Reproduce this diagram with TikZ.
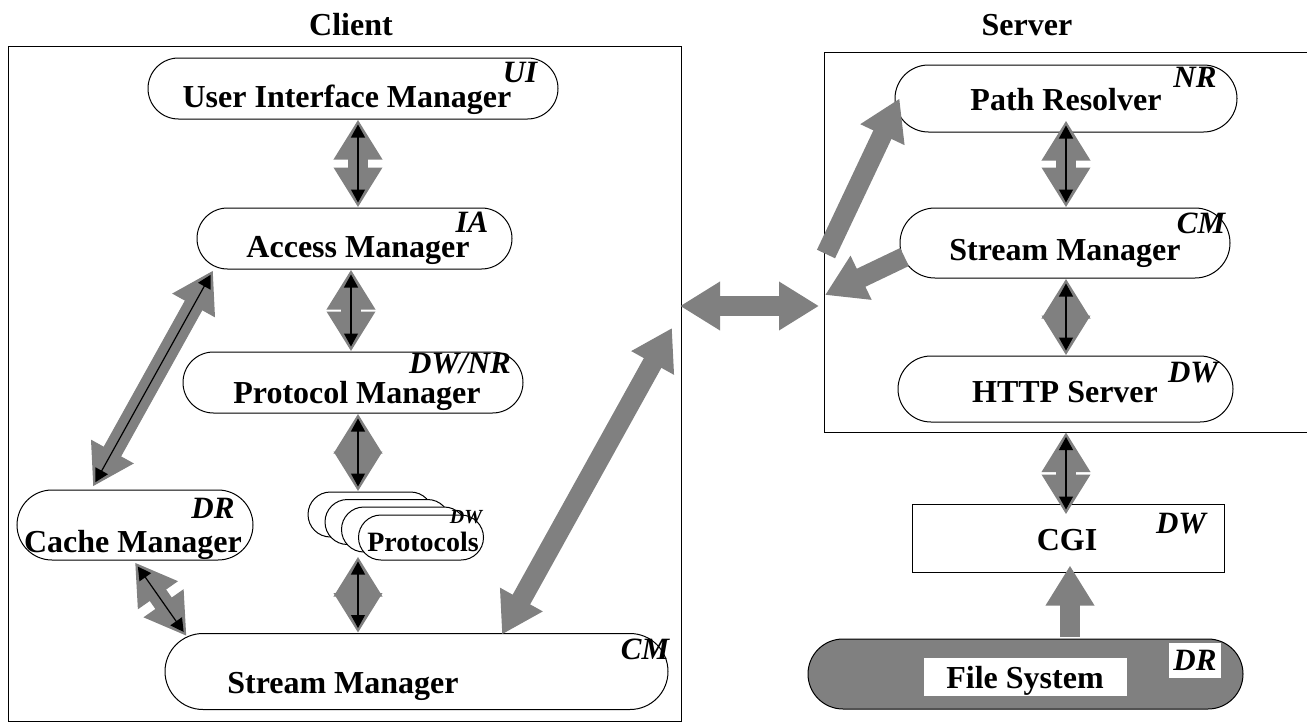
\documentclass[tikz,border=0pt]{standalone}
\usepackage{fontspec}
\setmainfont{Liberation Serif}
\usetikzlibrary{arrows.meta,calc}
\definecolor{ag}{RGB}{128,128,128}
\tikzset{
  frame/.style={draw, line width=1pt, inner sep=0pt},
  box/.style={draw, line width=1pt, fill=white, inner sep=0pt},
  nm/.style={font=\fontsize{32}{32}\selectfont\bfseries, anchor=base, inner sep=0pt},
  tag/.style={font=\fontsize{31}{31}\selectfont\bfseries\itshape, anchor=base, inner sep=0pt},
  fat/.style={draw=ag, line width=20pt, {Triangle[width=46pt,length=40pt]}-{Triangle[width=46pt,length=40pt]}},
  fatone/.style={draw=ag, line width=20pt, -{Triangle[width=46pt,length=40pt]}},
  thinarr/.style={draw=black, line width=1.2pt, {Triangle[width=14pt,length=13pt]}-{Triangle[width=14pt,length=13pt]}, shorten >=5pt, shorten <=5pt},
}
\newcommand{\dblarrow}[2]{\draw[fat] #1 -- #2; \draw[thinarr] #1 -- #2;}
\begin{document}
\begin{tikzpicture}[x=1pt,y=-1pt]
\useasboundingbox (0,0) rectangle (1307,728);
% containers
\node[frame, anchor=north west, minimum width=673pt, minimum height=675pt] (client) at (8,46) {};
\coordinate (srvTL) at (824,52);
\coordinate (srvBL) at (824,432);
\draw[line width=1pt] (1312,52) -- (srvTL) -- (srvBL) -- (1312,432);
\node[nm] (clientT) at (351,35) {Client};
\node[nm] (serverT) at (1027,35) {Server};

% client nodes
\node[box, minimum width=410pt, minimum height=61pt, rounded corners=30.5pt] (ui) at (353,88.5) {};
\node[nm] (uiT) at (347,107) {User Interface Manager};
\node[tag] (uiG) at (520,82) {UI};

\node[box, minimum width=315pt, minimum height=61pt, rounded corners=30.5pt] (ia) at (354.5,238.5) {};
\node[nm] (iaT) at (358,257) {Access Manager};
\node[tag] (iaG) at (472,232) {IA};

\node[box, minimum width=340pt, minimum height=61pt, rounded corners=30.5pt] (pm) at (353,382.5) {};
\node[nm] (pmT) at (357,403) {Protocol Manager};
\node[tag] (pmG) at (460,373) {DW/NR};

\node[box, minimum width=125pt, minimum height=45pt, rounded corners=22.5pt] (p1) at (370.5,514.5) {};
\node[box, minimum width=125pt, minimum height=45pt, rounded corners=22.5pt] (p2) at (387.5,522) {};
\node[box, minimum width=125pt, minimum height=45pt, rounded corners=22.5pt] (p3) at (404,529.5) {};
\node[box, minimum width=125pt, minimum height=45pt, rounded corners=22.5pt] (p4) at (421,537.5) {};
\node[nm, font=\fontsize{28}{28}\selectfont\bfseries] (pT) at (423,551) {Protocols};
\node[tag, font=\fontsize{20}{20}\selectfont\bfseries\itshape] (pG) at (466,523) {DW};

\node[box, minimum width=236pt, minimum height=70pt, rounded corners=35pt] (cache) at (135,525) {};
\node[nm] (cacheT) at (133,552) {Cache Manager};
\node[tag] (cacheG) at (213,518) {DR};

\node[box, minimum width=503pt, minimum height=76pt, rounded corners=38pt] (cm) at (416.5,671.5) {};
\node[nm] (cmT) at (343,693) {Stream Manager};
\node[tag] (cmG) at (645,659) {CM};

% server nodes
\node[box, minimum width=342pt, minimum height=67pt, rounded corners=33.5pt] (pr) at (1066,98.5) {};
\node[nm] (prT) at (1066,110) {Path Resolver};
\node[tag] (prG) at (1195,87) {NR};

\node[box, minimum width=330pt, minimum height=70pt, rounded corners=35pt] (sm) at (1065,243) {};
\node[nm] (smT) at (1065,260) {Stream Manager};
\node[tag] (smG) at (1201,233) {CM};

\node[box, minimum width=335pt, minimum height=66pt, rounded corners=33pt] (http) at (1065.5,389) {};
\node[nm] (httpT) at (1065,402) {HTTP Server};
\node[tag] (httpG) at (1193,382) {DW};

\node[box, minimum width=312pt, minimum height=68pt] (cgi) at (1068,538) {};
\node[nm] (cgiT) at (1067,550) {CGI};
\node[tag] (cgiG) at (1181,533) {DW};

\node[draw, line width=1pt, fill=ag, minimum width=435pt, minimum height=70pt, rounded corners=35pt] (fs) at (1025.5,674) {};
\node[fill=white, inner sep=0pt, minimum width=203pt, minimum height=38pt] (fsBox) at (1025.5,677) {};
\node[nm] (fsT) at (1025,688) {File System};
\node[fill=white, inner sep=0pt, minimum width=52pt, minimum height=35pt] (fsTagBox) at (1195,660.5) {};
\node[tag] (fsG) at (1195,670) {DR};

% free ends
\coordinate (diagTop) at (672,328);
\coordinate (hL) at (680,306);
\coordinate (hR) at (819,306);
\coordinate (srvIn) at (826,254);
\coordinate (srvOut) at (825,295);

% client arrows
\dblarrow{($(ui.south)+(5,0)$)}{($(ia.north)+(3.5,0)$)}
\dblarrow{($(ia.south)+(-3.5,0)$)}{($(pm.north)+(-2,0)$)}
\dblarrow{($(pm.south)+(5,0)$)}{($(p1.north)+(-12.5,0)$)}
\dblarrow{($(p4.south)+(-63,-4)$)}{($(cm.north)+(-58.5,0)$)}
\dblarrow{($(cache.north)+(-42,-3)$)}{($(ia.south)+(-141.5,1)$)}
\dblarrow{($(cache.south)+(0,2)$)}{($(cm.north)+(-230,3)$)}
\draw[fat] ($(cm.north)+(85.5,1.5)$) -- (diagTop);
\draw[fat] (hL) -- (hR);

% server arrows
\draw[fatone] (srvIn) -- ($(pr.west)+(5,0)$);
\draw[fatone] ($(sm.west)+(5,14)$) -- (srvOut);
\dblarrow{($(pr.south)+(0,-12)$)}{(pr.south |- sm.north)}
\dblarrow{(pr.south |- sm.south)}{(pr.south |- http.north)}
\dblarrow{(pr.south |- srvBL)}{($(cgi.north)+(-2,11)$)}
\draw[fatone] ($(fs.north)+(44.5,-2)$) -- ($(cgi.south)+(2,-7)$);
\end{tikzpicture}
\end{document}
